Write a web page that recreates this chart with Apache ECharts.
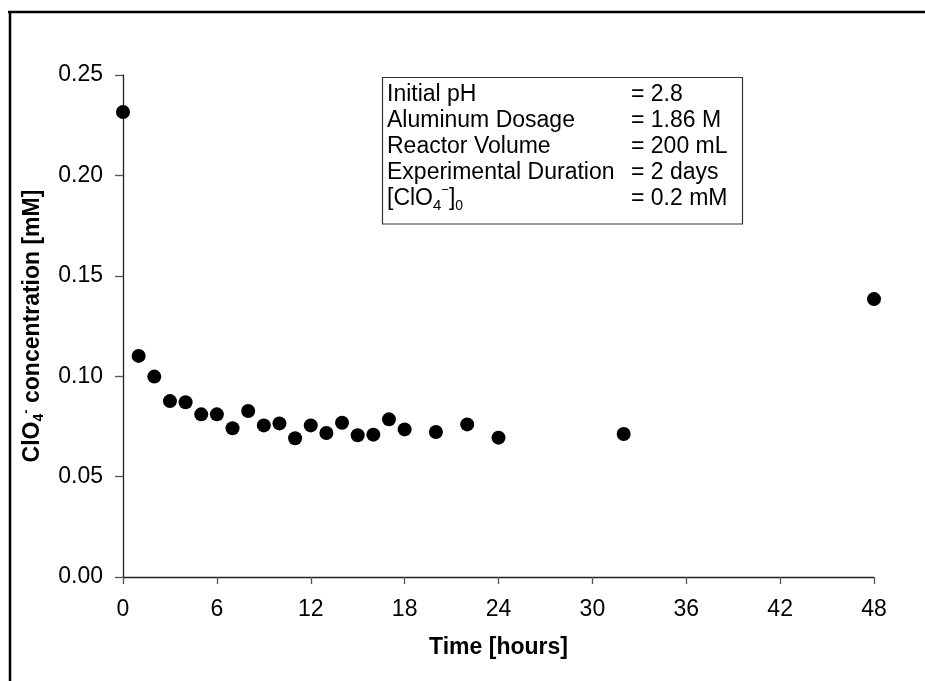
<!DOCTYPE html>
<html>
<head>
<meta charset="utf-8">
<script src="https://cdn.jsdelivr.net/npm/echarts@6/dist/echarts.min.js"></script>
<style>
  html, body { margin: 0; padding: 0; background: #fff; }
  #chart { width: 925px; height: 681px; }
</style>
</head>
<body>
<div id="chart"></div>
<script>
// Data
var hours = [0, 1, 2, 3, 4, 5, 6, 7, 8, 9, 10, 11, 12, 13, 14, 15, 16, 17, 18, 20, 22, 24, 32, 48];
var perchlorate = [0.2316, 0.1101, 0.0998, 0.0876, 0.0870, 0.0810, 0.0810, 0.0741, 0.0827, 0.0755,
                   0.0765, 0.0691, 0.0755, 0.0717, 0.0768, 0.0706, 0.0709, 0.0785, 0.0735, 0.0722,
                   0.0760, 0.0694, 0.0712, 0.1384];
var xTicks = [0, 6, 12, 18, 24, 30, 36, 42, 48];
var yTicks = [0.00, 0.05, 0.10, 0.15, 0.20, 0.25];
var infoLabels = ['Initial pH', 'Aluminum Dosage', 'Reactor Volume', 'Experimental Duration'];
var infoValues = ['= 2.8', '= 1.86 M', '= 200 mL', '= 2 days', '= 0.2 mM'];

var FONT = '"Liberation Sans", Arial, Helvetica, sans-serif';
var chart = echarts.init(document.getElementById('chart'), null, { renderer: 'canvas' });

var points = hours.map(function (h, i) { return [h, perchlorate[i]]; });

var infoGraphics = [];
var lineY0 = 95, lineStep = 25.9;
infoLabels.forEach(function (t, i) {
  infoGraphics.push({
    type: 'text', x: 387, y: lineY0 + i * lineStep,
    style: { text: t, font: '23px ' + FONT, fill: '#000', textVerticalAlign: 'middle', verticalAlign: 'middle' }
  });
});
infoGraphics.push({
  type: 'text', x: 387, y: lineY0 + 4 * lineStep,
  style: {
    text: '{n|[ClO}{sub|4}{sup|\u2212}{n|]}{sub0|0}',
    fill: '#000', verticalAlign: 'middle', textVerticalAlign: 'middle',
    rich: {
      n: { fontSize: 23, fontFamily: FONT, lineHeight: 30, fill: '#000', color: '#000' },
      sub: { fontSize: 15, fontFamily: FONT, lineHeight: 15, verticalAlign: 'bottom', fill: '#000', color: '#000' },
      sub0: { fontSize: 14, fontFamily: FONT, lineHeight: 14, verticalAlign: 'bottom', fill: '#000', color: '#000' },
      sup: { fontSize: 13, fontFamily: FONT, lineHeight: 13, verticalAlign: 'top', fill: '#000', color: '#000' }
    }
  }
});
infoValues.forEach(function (t, i) {
  infoGraphics.push({
    type: 'text', x: 631, y: lineY0 + i * lineStep,
    style: { text: t, font: '23px ' + FONT, fill: '#000', textVerticalAlign: 'middle', verticalAlign: 'middle' }
  });
});

var option = {
  backgroundColor: '#fff',
  animation: false,
  grid: { left: 123, right: 51, top: 75, bottom: 104, containLabel: false },
  xAxis: {
    type: 'value', min: 0, max: 48, interval: 6,
    name: 'Time [hours]', nameLocation: 'middle', nameGap: 59,
    nameTextStyle: { fontFamily: FONT, fontSize: 23, fontWeight: 'bold', color: '#000' },
    axisLine: { show: true, lineStyle: { color: '#222', width: 1.3 } },
    axisTick: { show: true, inside: false, length: 7, lineStyle: { color: '#555', width: 1.3 } },
    axisLabel: {
      margin: 21, fontFamily: FONT, fontSize: 23, color: '#000',
      formatter: function (v) { return xTicks.indexOf(v) >= 0 ? String(v) : ''; }
    },
    splitLine: { show: false }
  },
  yAxis: {
    type: 'value', min: 0, max: 0.25, interval: 0.05,
    name: '{b|ClO}{sub|4}{sup|-}{b| concentration [mM]}',
    nameLocation: 'middle', nameGap: 77, nameRotate: 90,
    nameTextStyle: {
      fontFamily: FONT, fontSize: 23, fontWeight: 'bold', color: '#000',
      rich: {
        b: { fontFamily: FONT, fontSize: 23, fontWeight: 'bold', color: '#000', lineHeight: 26 },
        sub: { fontFamily: FONT, fontSize: 14, fontWeight: 'bold', color: '#000', lineHeight: 14, verticalAlign: 'bottom' },
        sup: { fontFamily: FONT, fontSize: 13, fontWeight: 'bold', color: '#000', lineHeight: 13, verticalAlign: 'top' }
      }
    },
    axisLine: { show: true, lineStyle: { color: '#222', width: 1.3 } },
    axisTick: { show: true, inside: false, length: 8, lineStyle: { color: '#555', width: 1.3 } },
    axisLabel: {
      margin: 20, fontFamily: FONT, fontSize: 23, color: '#000',
      formatter: function (v) {
        for (var i = 0; i < yTicks.length; i++) { if (Math.abs(yTicks[i] - v) < 1e-9) return yTicks[i].toFixed(2); }
        return '';
      }
    },
    splitLine: { show: false }
  },
  series: [{
    type: 'scatter',
    data: points,
    symbol: 'circle',
    symbolSize: 14,
    itemStyle: { color: '#000', opacity: 1 },
    clip: false
  }],
  graphic: [
    { type: 'line', shape: { x1: 8, y1: 12, x2: 925, y2: 12 }, style: { stroke: '#000', lineWidth: 2.5 } },
    { type: 'line', shape: { x1: 10, y1: 11, x2: 10, y2: 681 }, style: { stroke: '#000', lineWidth: 2.5 } },
    { type: 'rect', shape: { x: 382.5, y: 77.5, width: 360, height: 146.5 }, style: { fill: '#fff', stroke: '#333', lineWidth: 1.2 } }
  ].concat(infoGraphics)
};
chart.setOption(option);
</script>
</body>
</html>
